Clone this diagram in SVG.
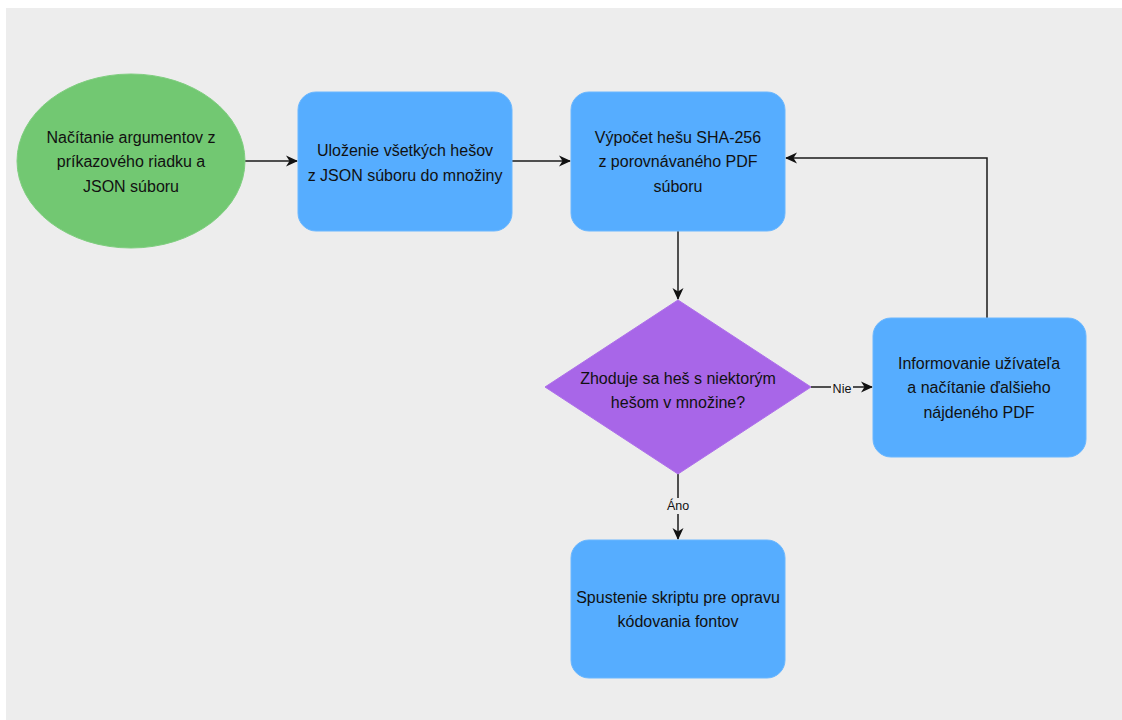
<svg xmlns="http://www.w3.org/2000/svg" width="1122" height="720" viewBox="0 0 1122 720">
<style>
.t{font-family:"Liberation Sans",Arial,sans-serif;font-size:16px;fill:#111;text-anchor:middle;dominant-baseline:central}
.l{font-family:"Liberation Sans",Arial,sans-serif;font-size:12.5px;fill:#111;text-anchor:middle;dominant-baseline:central}
.box{fill:#56adff;stroke:#6ab7ff;stroke-width:1}
.c{fill:none;stroke:#1a1a1a;stroke-width:1.5}
</style>
<defs>
<marker id="a" viewBox="0 0 12 12" refX="11" refY="6" markerWidth="12" markerHeight="12" markerUnits="userSpaceOnUse" orient="auto">
<path d="M0,0.5 L12,6 L0,11.5 L3.5,6 Z" fill="#111"/>
</marker>
</defs>
<rect x="6" y="8" width="1116" height="712" fill="#ededed"/>
<g id="connectors">
<path class="c" d="M245,161 H297" marker-end="url(#a)"/>
<path class="c" d="M512,161 H570" marker-end="url(#a)"/>
<path class="c" d="M678,231 V299" marker-end="url(#a)"/>
<path class="c" d="M811,387 H872" marker-end="url(#a)"/>
<path class="c" d="M678,474 V539" marker-end="url(#a)"/>
<path class="c" d="M987,318 V158 H786" marker-end="url(#a)"/>
<rect x="831" y="382" width="22" height="15" fill="#ededed"/>
<text class="l" x="842" y="389">Nie</text>
<rect x="665" y="498" width="26" height="16" fill="#ededed"/>
<text class="l" x="678" y="506">Áno</text>
</g>
<g id="start">
<ellipse cx="131" cy="161" rx="114" ry="87" fill="#72c872" stroke="#7fce7f"/>
<text class="t" x="131" y="137">Načítanie argumentov z</text>
<text class="t" x="131" y="161">príkazového riadku a</text>
<text class="t" x="131" y="186">JSON súboru</text>
</g>
<g id="store">
<rect class="box" x="298" y="92" width="214" height="139" rx="18"/>
<text class="t" x="405" y="150">Uloženie všetkých hešov</text>
<text class="t" x="405" y="175">z JSON súboru do množiny</text>
</g>
<g id="hash">
<rect class="box" x="571" y="92" width="214" height="139" rx="18"/>
<text class="t" x="678" y="137">Výpočet hešu SHA-256</text>
<text class="t" x="678" y="161">z porovnávaného PDF</text>
<text class="t" x="678" y="186">súboru</text>
</g>
<g id="decision">
<polygon points="678,300 811,387 678,474 545,387" fill="#a866e8" stroke="#ae70ea"/>
<text class="t" x="678" y="378">Zhoduje sa heš s niektorým</text>
<text class="t" x="678" y="402">hešom v množine?</text>
</g>
<g id="inform">
<rect class="box" x="873" y="318" width="213" height="139" rx="18"/>
<text class="t" x="979" y="363">Informovanie užívateľa</text>
<text class="t" x="979" y="387">a načítanie ďalšieho</text>
<text class="t" x="979" y="412">nájdeného PDF</text>
</g>
<g id="run">
<rect class="box" x="571" y="540" width="214" height="138" rx="18"/>
<text class="t" x="678" y="597">Spustenie skriptu pre opravu</text>
<text class="t" x="678" y="621">kódovania fontov</text>
</g>
</svg>
